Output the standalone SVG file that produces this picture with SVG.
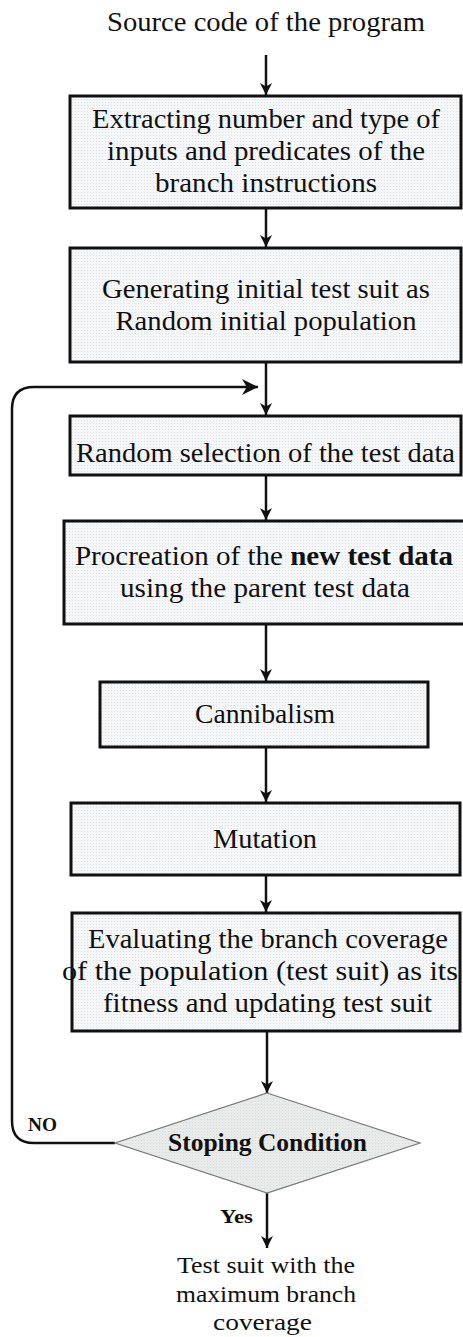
<svg xmlns="http://www.w3.org/2000/svg" width="463" height="1337" viewBox="0 0 463 1337">
<style>
.t{font-family:"Liberation Serif","Times New Roman",serif;font-size:28px;fill:#111;text-anchor:middle}
.e{font-size:24px}
.b{font-weight:bold}
.box{fill:url(#dots);stroke:#111;stroke-width:3}
.dia{fill:url(#dots2);stroke:#777;stroke-width:1.2}
.c{fill:none;stroke:#111;stroke-width:2.5}
</style>
<defs>
<pattern id="dots" width="3" height="3" patternUnits="userSpaceOnUse">
<rect width="3" height="3" fill="#f5f6f8"/>
<rect width="1" height="1" fill="#e0e3e6"/>
</pattern>
<pattern id="dots2" width="3" height="3" patternUnits="userSpaceOnUse">
<rect width="3" height="3" fill="#e9ebeb"/>
<rect width="1" height="1" fill="#d8dbdb"/>
</pattern>
<marker id="ah" viewBox="0 0 10 10" refX="10" refY="5" markerWidth="12" markerHeight="12" markerUnits="userSpaceOnUse" orient="auto">
<path d="M0,0 L10,5 L0,10 L3,5 z" fill="#111"/>
</marker>
<marker id="ahl" viewBox="0 0 10 10" refX="10" refY="5" markerWidth="16" markerHeight="16" markerUnits="userSpaceOnUse" orient="auto">
<path d="M0,0 L10,5 L0,10 L3,5 z" fill="#111"/>
</marker>
</defs>

<g id="connectors">
<line class="c" x1="266" y1="55" x2="266" y2="95" marker-end="url(#ah)"/>
<line class="c" x1="266" y1="209" x2="266" y2="247" marker-end="url(#ah)"/>
<line class="c" x1="266" y1="363" x2="266" y2="415" marker-end="url(#ah)"/>
<line class="c" x1="266" y1="476" x2="266" y2="520" marker-end="url(#ah)"/>
<line class="c" x1="266" y1="625" x2="266" y2="681" marker-end="url(#ah)"/>
<line class="c" x1="266" y1="748" x2="266" y2="802" marker-end="url(#ah)"/>
<line class="c" x1="266" y1="876" x2="266" y2="912" marker-end="url(#ah)"/>
<line class="c" x1="267" y1="1032" x2="267" y2="1093" marker-end="url(#ah)"/>
<line class="c" x1="267" y1="1193" x2="267" y2="1248" marker-end="url(#ah)"/>
<path class="c" d="M115,1143 L34,1143 Q12,1143 12,1121 L12,409 Q12,387 34,387 L258,387" marker-end="url(#ahl)"/>
</g>

<g id="start">
<text class="t" x="266" y="31" textLength="318" lengthAdjust="spacingAndGlyphs">Source code of the program</text>
</g>

<g id="n1">
<rect class="box" x="70" y="96" width="391" height="112"/>
<text class="t" x="266" y="128" textLength="348" lengthAdjust="spacingAndGlyphs">Extracting number and type of</text>
<text class="t" x="266" y="160" textLength="318" lengthAdjust="spacingAndGlyphs">inputs and predicates of the</text>
<text class="t" x="266" y="192" textLength="222" lengthAdjust="spacingAndGlyphs">branch instructions</text>
</g>

<g id="n2">
<rect class="box" x="70" y="248" width="391" height="114"/>
<text class="t" x="266" y="298" textLength="328" lengthAdjust="spacingAndGlyphs">Generating initial test suit as</text>
<text class="t" x="266" y="330" textLength="301" lengthAdjust="spacingAndGlyphs">Random initial population</text>
</g>

<g id="n3">
<rect class="box" x="70" y="416" width="391" height="59"/>
<text class="t" x="265.5" y="462" textLength="379" lengthAdjust="spacingAndGlyphs">Random selection of the test data</text>
</g>

<g id="n4">
<rect class="box" x="64" y="521" width="402" height="103"/>
<text class="t" x="264" y="565" textLength="378" lengthAdjust="spacingAndGlyphs">Procreation of the <tspan class="b">new test data</tspan></text>
<text class="t" x="265" y="597" textLength="290" lengthAdjust="spacingAndGlyphs">using the parent test data</text>
</g>

<g id="n5">
<rect class="box" x="100" y="682" width="328" height="65"/>
<text class="t" x="265" y="723" textLength="140" lengthAdjust="spacingAndGlyphs">Cannibalism</text>
</g>

<g id="n6">
<rect class="box" x="71" y="803" width="389" height="72"/>
<text class="t" x="265" y="848" textLength="104" lengthAdjust="spacingAndGlyphs">Mutation</text>
</g>

<g id="n7">
<rect class="box" x="72" y="913" width="388" height="118"/>
<text class="t" x="268" y="948" textLength="360" lengthAdjust="spacingAndGlyphs">Evaluating the branch coverage</text>
<text class="t" x="260" y="980" textLength="396" lengthAdjust="spacingAndGlyphs">of the population (test suit) as its</text>
<text class="t" x="267.5" y="1012" textLength="329" lengthAdjust="spacingAndGlyphs">fitness and updating test suit</text>
</g>

<g id="decision">
<polygon class="dia" points="267,1093 420,1143 267,1193 115,1143"/>
<text class="t b" x="267.5" y="1151" style="font-size:25px" textLength="199" lengthAdjust="spacingAndGlyphs">Stoping Condition</text>
</g>

<g id="labels">
<text class="t b" x="42.5" y="1131" style="font-size:19px" textLength="29" lengthAdjust="spacingAndGlyphs">NO</text>
<text class="t b" x="236.5" y="1223" style="font-size:19px" textLength="33" lengthAdjust="spacingAndGlyphs">Yes</text>
</g>

<g id="end">
<text class="t e" x="266" y="1273" textLength="178" lengthAdjust="spacingAndGlyphs">Test suit with the</text>
<text class="t e" x="266" y="1302" textLength="180" lengthAdjust="spacingAndGlyphs">maximum branch</text>
<text class="t e" x="262.5" y="1330" textLength="99" lengthAdjust="spacingAndGlyphs">coverage</text>
</g>
</svg>
